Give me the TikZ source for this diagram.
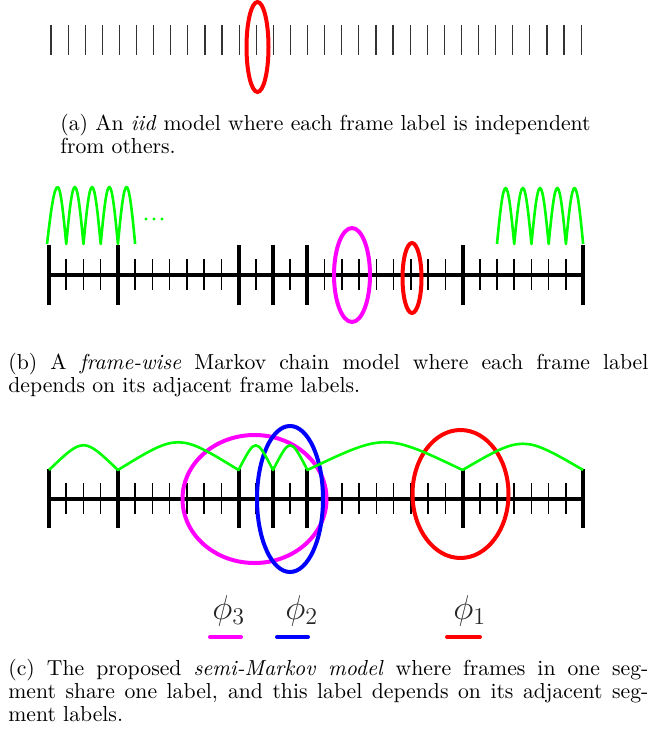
\documentclass[tikz,border=0pt]{standalone}
\usetikzlibrary{calc}
\definecolor{pgreen}{RGB}{0,255,0}
\definecolor{pred}{RGB}{255,0,0}
\definecolor{pmag}{RGB}{255,0,255}
\definecolor{pblue}{RGB}{0,0,255}
\newcommand{\capfont}{\fontsize{10.85}{11.5}\selectfont}
\begin{document}
\begin{tikzpicture}[x=0.5pt,y=-0.5pt,
  atick/.style={draw=black!80,line width=0.6pt},
  stick/.style={draw=black,line width=0.75pt},
  btick/.style={draw=black,line width=2pt},
  mainline/.style={draw=black,line width=2pt},
  greenline/.style={draw=pgreen,line width=1.3pt,line join=round},
  ell/.style={line width=2pt},
  capline/.style={anchor=base west,inner sep=0pt,font=\capfont},
  philab/.style={anchor=base west,inner sep=0pt,text=black!85,font=\fontsize{17}{20}\selectfont},
  uline/.style={line width=2pt,line cap=round}]
\useasboundingbox (0,0) rectangle (653,733);

% ---------- (a) ----------
\foreach \i in {0,...,31}{
  \draw[atick] ({51+17.1*\i},25) -- ({51+17.1*\i},55);
}
\draw[ell,pred] (257.5,47) ellipse [x radius=11, y radius=45];
\node[capline] (capa1) at (60,130.5) {(a) An \emph{iid} model where each frame label is independent};
\node[capline] (capa2) at (60,153.5) {from others.};

% ---------- (b) ----------
\draw[mainline] (49,275) -- (583,275);
\foreach \i in {0,...,31}{
  \draw[stick] ({49+17.23*\i},259) -- ({49+17.23*\i},290);
}
\foreach \i in {0,4,11,13,15,24,31}{
  \draw[btick] ({49+17.23*\i},245) -- ({49+17.23*\i},305);
}
% green arches
\draw[greenline] (47,244)
  \foreach \i in {0,...,4}{
    sin ({49+17.23*(\i+0.5)},187) cos ({49+17.23*(\i+1)},244)
  };
\draw[greenline] ({49+17.23*26},244)
  \foreach \i in {26,...,30}{
    sin ({49+17.23*(\i+0.5)},188) cos ({49+17.23*(\i+1)},244)
  };
\foreach \x in {146,154,162}{
  \fill[pgreen] (\x,219) circle [radius=1.6];
}
\draw[ell,pmag] (352,275) ellipse [x radius=18, y radius=47];
\draw[ell,pred] (412,278) ellipse [x radius=9.5, y radius=35];
\node[capline] (capb1) at (8,369.3) {\makebox[320pt][s]{(b) A \emph{frame-wise} Markov chain model where each frame label}};
\node[capline] (capb2) at (8,392.3) {depends on its adjacent frame labels.};

% ---------- (c) ----------
\draw[mainline] (49,499) -- (583,499);
\foreach \i in {0,...,31}{
  \draw[stick] ({49+17.23*\i},483) -- ({49+17.23*\i},514);
}
\foreach \i in {0,4,11,13,15,24,31}{
  \draw[btick] ({49+17.23*\i},469) -- ({49+17.23*\i},528);
  \coordinate (s\i) at ({49+17.23*\i},470);
}
\draw[ell,pmag] (254.5,499) ellipse [x radius=72, y radius=64];
\draw[ell,pblue] (290,499) ellipse [x radius=33, y radius=73];
\draw[ell,pred] (460.5,494) ellipse [x radius=48, y radius=64];
\draw[greenline] (s0) .. controls ($(s0)!0.5!(s4)+(0,-33)$) .. (s4)
  .. controls ($(s4)!0.5!(s11)+(0,-37)$) .. (s11)
  .. controls ($(s11)!0.5!(s13)+(0,-33)$) .. (s13)
  .. controls ($(s13)!0.5!(s15)+(0,-33)$) .. (s15)
  .. controls ($(s15)!0.5!(s24)+(0,-37)$) .. (s24)
  .. controls ($(s24)!0.5!(s31)+(0,-35)$) .. (s31);

% labels
\node[philab] (phi3) at (212,619) {$\phi_3$};
\node[philab] (phi2) at (285,619) {$\phi_2$};
\node[philab] (phi1) at (453,619) {$\phi_1$};
\draw[uline,pmag] (210,637) -- (241,637);
\draw[uline,pblue] (277,637) -- (308,637);
\draw[uline,pred] (447,637) -- (480,637);

\node[capline] (capc1) at (8,675) {\makebox[320pt][s]{(c) The proposed \emph{semi-Markov model} where frames in one seg-}};
\node[capline] (capc2) at (8,698) {\makebox[320pt][s]{ment share one label, and this label depends on its adjacent seg-}};
\node[capline] (capc3) at (8,721) {ment labels.};
\end{tikzpicture}
\end{document}
